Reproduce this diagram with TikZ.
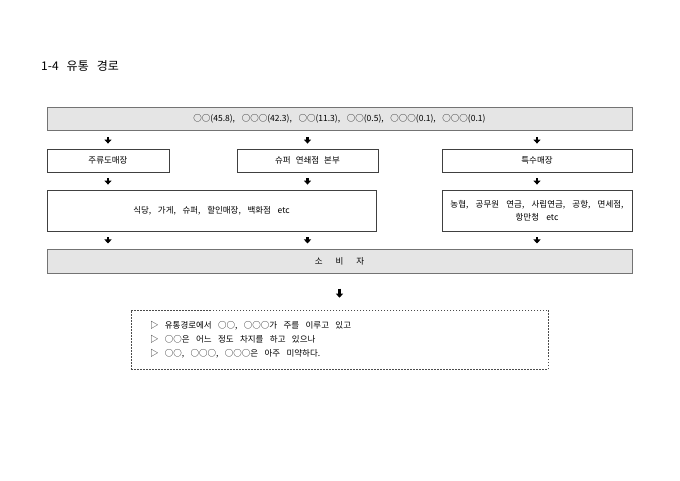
\documentclass[tikz,border=0pt]{standalone}
\usepackage{fontspec}
\setmainfont[WordSpace=3.5]{Noto Sans CJK KR}
\newfontfamily\titlefont[WordSpace=3]{Noto Sans CJK KR}
\usetikzlibrary{positioning, arrows.meta}

\begin{document}
\begin{tikzpicture}[x=1pt, y=1pt, font=\fontsize{8.5}{10}\selectfont,
    box/.style={rectangle, draw=black!75, line width=0.8pt, inner sep=0pt, minimum height=23pt},
    graybox/.style={box, draw=black!55, fill=black!10, line width=1pt},
    arr/.style={-{Triangle[width=7pt, length=4pt]}, line width=2.6pt, shorten <=6pt, shorten >=5pt}]
  \useasboundingbox (0,0) rectangle (680,-481);

  % Title
  \node[anchor=west, inner sep=0pt] (title) at (41,-66) {\titlefont\fontsize{12}{14}\selectfont 1-4 유통 경로};

  % Suppliers
  \node[graybox, minimum width=585pt] (supp) at (339.5,-119) {○○(45.8), ○○○(42.3), ○○(11.3), ○○(0.5), ○○○(0.1), ○○○(0.1)};

  % Channels
  \node[box, minimum width=122pt] (liquor) at (108,-160.5) {주류도매장};
  \node[box, minimum width=141pt] (superhq) at (307.5,-160.5) {슈퍼\hspace{5pt}연쇄점\hspace{5pt}본부};
  \node[box, minimum width=190pt] (special) at (537,-160.5) {특수매장};

  % Outlets
  \node[box, minimum width=329pt, minimum height=41pt] (shops) at (211.5,-210.5) {식당, 가게, 슈퍼, 할인매장, 백화점 etc};
  \node[box, minimum width=190pt, minimum height=41pt, text width=188pt, align=center, font=\fontsize{8.5}{13}\selectfont] (inst) at (537,-210.5) {\spaceskip=0.85em\relax 농협, 공무원 연금, 사립연금, 공항, 면세점,\\항만청 etc};

  % Consumers
  \node[graybox, minimum width=585pt, minimum height=24pt] (cons) at (339.5,-261) {소\hspace{13pt}비\hspace{13pt}자};

  % Summary
  \node[rectangle, draw=black!70, dash pattern=on 1.5pt off 1.5pt, line width=0.6pt, text width=379pt, inner xsep=19pt, inner ysep=0pt, minimum height=59pt, align=left, font=\fontsize{8.5}{14}\selectfont] (note) at (339.5,-339.5) {\spaceskip=0.75em\relax ▷ 유통경로에서 ○○, ○○○가 주를 이루고 있고\\▷ ○○은 어느 정도 차지를 하고 있으나\\▷ ○○, ○○○, ○○○은 아주 미약하다.};

  % Arrows
  \draw[arr] (supp.south -| liquor) -- (liquor.north);
  \draw[arr] (supp.south -| superhq) -- (superhq.north);
  \draw[arr] (supp.south -| special) -- (special.north);
  \draw[arr] (liquor.south) -- (shops.north -| liquor);
  \draw[arr] (superhq.south) -- (shops.north -| superhq);
  \draw[arr] (special.south) -- (inst.north);
  \draw[arr] (shops.south -| liquor) -- (cons.north -| liquor);
  \draw[arr] (shops.south -| superhq) -- (cons.north -| superhq);
  \draw[arr] (inst.south) -- (cons.north -| inst);
  \draw[arr, shorten <=15pt, shorten >=12pt] (cons.south) -- (note.north);
\end{tikzpicture}
\end{document}
